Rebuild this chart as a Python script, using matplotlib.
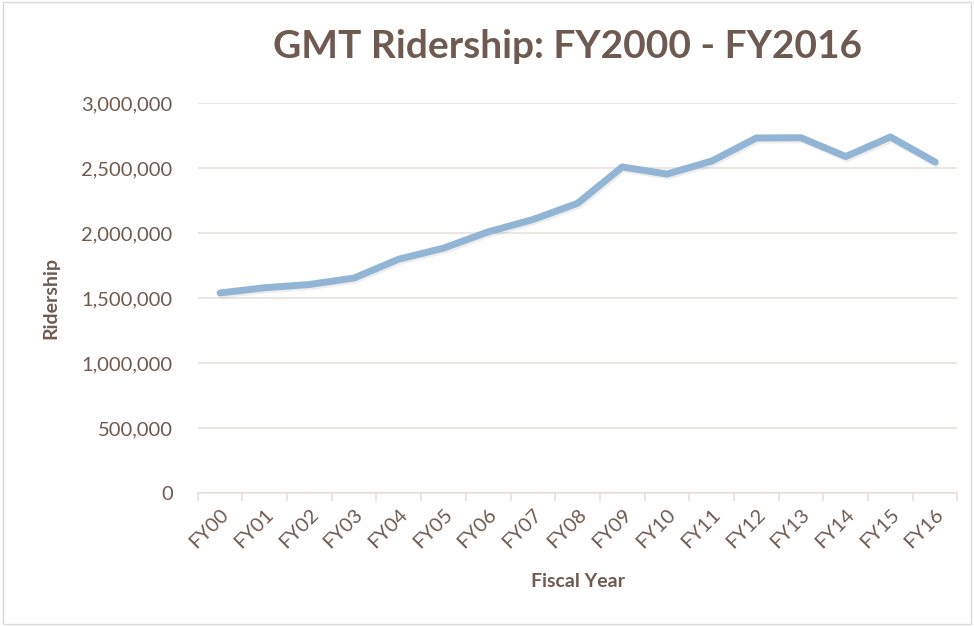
import matplotlib
matplotlib.use("Agg")
import matplotlib.pyplot as plt
import matplotlib.patheffects as pe
from matplotlib.patches import Rectangle
from matplotlib.ticker import FuncFormatter, MultipleLocator, FixedLocator

categories = ["FY00", "FY01", "FY02", "FY03", "FY04", "FY05", "FY06", "FY07", "FY08",
              "FY09", "FY10", "FY11", "FY12", "FY13", "FY14", "FY15", "FY16"]
ridership = [1540000, 1580000, 1605000, 1655000, 1800000, 1885000, 2010000, 2105000,
             2230000, 2510000, 2455000, 2555000, 2733000, 2735000, 2590000, 2741000, 2548000]

text_color = "#6E5A50"
grid_color = "#E6E1DD"
line_color = "#93B5D5"

plt.rcParams['font.family'] = ['Lato', 'DejaVu Sans']

fig = plt.figure(figsize=(9.74, 6.26), dpi=100)
ax = fig.add_axes([0.203, 0.2125, 0.780, 0.6225])

x = list(range(len(categories)))
ax.plot(x, ridership, color=line_color, linewidth=5, solid_capstyle='round',
        solid_joinstyle='round',
        path_effects=[pe.SimpleLineShadow(offset=(1, -1.5), shadow_color='#000000', alpha=0.07),
                      pe.Normal()], zorder=3)

ax.set_xlim(-0.5, len(categories) - 0.5)
ax.set_ylim(0, 3000000)
ax.yaxis.set_major_locator(MultipleLocator(500000))
ax.yaxis.set_major_formatter(FuncFormatter(lambda v, p: f"{int(v):,}"))
ax.grid(axis='y', color=grid_color, linewidth=1.2, zorder=0)
ax.set_axisbelow(True)

ax.set_xticks(x)
ax.set_xticklabels(categories, rotation=45, ha='right', rotation_mode='anchor',
                   fontsize=14.5, color=text_color)
ax.xaxis.set_minor_locator(FixedLocator([i - 0.5 for i in range(len(categories) + 1)]))
ax.tick_params(axis='x', which='major', length=0, pad=9)
ax.tick_params(axis='x', which='minor', length=6, color=grid_color, width=1.2)
ax.tick_params(axis='y', length=0, labelsize=14.5, labelcolor=text_color, pad=18)

for s in ['top', 'right', 'left']:
    ax.spines[s].set_visible(False)
ax.spines['bottom'].set_color(grid_color)
ax.spines['bottom'].set_linewidth(1.2)

ax.set_xlabel("Fiscal Year", fontsize=14, fontweight='bold', color=text_color, labelpad=16)
ax.set_ylabel("Ridership", fontsize=14, fontweight='bold', color=text_color, labelpad=16)

fig.text(0.583, 0.925, "GMT Ridership: FY2000 - FY2016", ha='center', va='center',
         fontsize=28, fontweight='bold', color=text_color)

fig.patches.append(Rectangle((0.003, 0.003), 0.994, 0.994, transform=fig.transFigure,
                             fill=False, edgecolor='#D9D9D9', linewidth=1))

fig.savefig("out.png", dpi=100)
